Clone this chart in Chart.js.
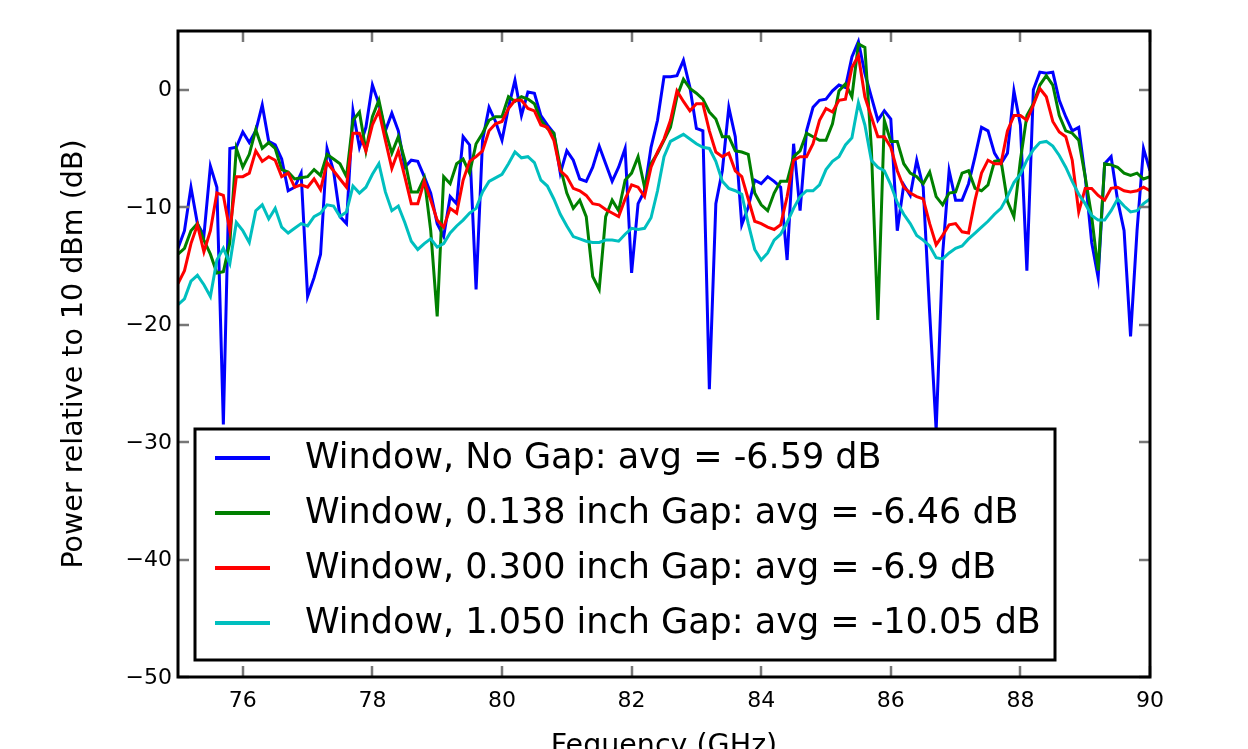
<!DOCTYPE html>
<html>
<head>
<meta charset="utf-8">
<script src="https://cdn.jsdelivr.net/npm/chart.js@4.4.1/dist/chart.umd.min.js"></script>
<style>
  html, body { margin: 0; padding: 0; background: #fff; overflow: hidden; }
  #wrap { width: 1248px; height: 749px; overflow: hidden; }
  canvas { display: block; }
</style>
</head>
<body>
<div id="wrap"><canvas id="c" width="1248" height="780"></canvas></div>
<script>
// ---- data (frequency grid 75.0 .. 90.0 GHz, step 0.1) ----
const freqGHz = Array.from({length: 151}, (_, i) => +(75 + i * 0.1).toFixed(1));

const seriesLabels = [
  'Window, No Gap: avg = -6.59 dB',
  'Window, 0.138 inch Gap: avg = -6.46 dB',
  'Window, 0.300 inch Gap: avg = -6.9 dB',
  'Window, 1.050 inch Gap: avg = -10.05 dB'
];

const noGap = [
  -13.5,-12,-8.3,-11.4,-12.4,-6.5,-8.3,-28.5,-5,-4.9,
  -3.6,-4.5,-3.5,-1.3,-4.4,-4.7,-5.9,-8.6,-8.3,-7.1,
  -17.6,-16,-14,-5,-6.9,-10.8,-11.4,-1.8,-4.9,-3.2,
  0.4,-1.2,-3.5,-2,-3.5,-6.6,-6,-6.1,-7.4,-8.8,
  -11.4,-12.5,-9.1,-9.7,-4,-4.7,-17,-4.3,-1.5,-2.7,
  -4.3,-1.5,0.8,-2.2,-0.2,-0.3,-2.2,-3,-3.7,-7.1,
  -5.2,-6,-7.6,-7.8,-6.6,-4.8,-6.3,-7.8,-6.6,-5,
  -15.6,-9.7,-8.6,-4.9,-2.6,1.1,1.1,1.2,2.5,0.2,
  -3.3,-3.5,-25.5,-9.7,-6.9,-1.5,-4,-11.5,-10,-7.7,
  -8,-7.4,-7.8,-8.3,-14.5,-4.6,-10.3,-3.5,-1.5,-0.9,
  -0.8,-0.1,0.4,0.2,2.8,4.1,1.4,-0.6,-2.6,-1.8,
  -2.5,-12,-8.1,-9,-6,-8.3,-19,-29,-14,-6.9,
  -9.4,-9.4,-8,-5.7,-3.2,-3.5,-5.4,-6.3,-5.4,-0.1,
  -3,-15.4,0,1.5,1.4,1.5,-0.9,-2.3,-3.5,-3.2,
  -7.4,-13,-16,-6.3,-5.7,-9.4,-12,-21,-12,-5,
  -6.9
];

const gap0138 = [
  -14,-13.5,-12,-11.4,-12.8,-14,-15.6,-15.5,-13,-5,
  -6.6,-5.5,-3.4,-5,-4.5,-5,-6.8,-7,-7.6,-7.5,
  -7.4,-6.8,-7.3,-5.5,-5.9,-6.3,-7.4,-2.6,-1.9,-5.2,
  -2.3,-0.9,-3.5,-5.4,-4,-6,-8.7,-8.7,-7.5,-12,
  -19.3,-7.4,-8,-6.3,-5.9,-7.1,-4.6,-3.7,-2.6,-2.3,
  -2.3,-0.6,-1,-0.6,-0.8,-1.2,-2.6,-3.3,-3.7,-6.6,
  -8.8,-10.1,-9.4,-10.8,-15.9,-17,-10.8,-9.4,-10.3,-7.7,
  -7.1,-5.7,-8.3,-6.3,-5.4,-4.3,-3.2,-0.6,0.9,0.1,
  -0.3,-0.8,-1.9,-2.5,-4,-4,-5.2,-5.3,-5.5,-8.8,
  -9.8,-10.3,-8.8,-7.8,-7.8,-5.7,-5.2,-3.7,-4,-4.3,
  -4.3,-2.9,-0.1,0.5,-0.6,3.9,3.6,-5,-19.6,-2.6,
  -4.4,-4.4,-6.3,-7.1,-7.4,-8,-7,-9.1,-9.8,-8.8,
  -8.7,-7.1,-6.9,-8.4,-8.6,-8.1,-6.1,-6,-9.5,-10.8,
  -6,-2.2,-1.2,0.4,1.2,0.4,-2.2,-3.5,-3.7,-4.3,
  -7.4,-10.8,-15.4,-6.3,-6.4,-6.6,-7.1,-7.3,-7.1,-7.6,
  -7.4
];

const gap0300 = [
  -16.5,-15.4,-13.1,-11.5,-13.8,-12,-8.8,-9,-12,-7.4,
  -7.4,-7.1,-5.2,-6.1,-5.7,-6,-7.4,-7.1,-8.3,-8.1,
  -8.3,-7.6,-8.5,-6.2,-6.9,-7.6,-8.3,-3.7,-3.7,-5.2,
  -3,-1.8,-4.3,-6.7,-5.2,-7.4,-9.7,-9.7,-7.8,-9.4,
  -11.1,-11.7,-10.1,-10.5,-7.7,-6.1,-5.7,-5.2,-3.5,-2.9,
  -2.7,-1.6,-0.9,-0.9,-1.6,-1.8,-3,-3.2,-4.3,-6.9,
  -7.4,-8.4,-8.6,-9,-9.7,-9.8,-10.2,-10.5,-10.8,-9.3,
  -8.1,-8.3,-9.1,-6.6,-5.3,-4.2,-2.6,-0.1,-1,-1.8,
  -1.2,-1.2,-3.5,-5.3,-5.7,-5.4,-6.9,-7.4,-9.3,-11.2,
  -11.4,-11.7,-11.9,-11.5,-9.1,-6,-5.7,-5.7,-4.6,-2.6,
  -1.6,-1.9,-0.9,-0.8,1.9,2.9,-0.6,-2.3,-4,-4,
  -4.9,-6.9,-8.3,-8.8,-9.1,-9.3,-11.4,-13.2,-12.4,-11.5,
  -11.4,-12.1,-12.2,-9.4,-7.1,-6,-6.3,-6.3,-3.5,-2.2,
  -2.2,-2.6,-1.3,0.1,-0.6,-2.7,-3.6,-4,-6,-10.4,
  -8.4,-8.4,-9,-9.4,-8.4,-8.3,-8.6,-8.7,-8.6,-8.3,
  -8.6
];

const gap1050 = [
  -18.3,-17.8,-16.3,-15.8,-16.6,-17.6,-14.5,-13.5,-14.8,-11.3,
  -12,-13,-10.3,-9.8,-11,-10.1,-11.7,-12.2,-11.8,-11.4,
  -11.6,-10.8,-10.5,-9.8,-9.9,-10.8,-10.4,-8.2,-8.8,-8.3,
  -7.2,-6.3,-8.7,-10.3,-9.9,-11.3,-12.9,-13.6,-13.1,-12.7,
  -13.4,-13.1,-12.2,-11.6,-11.1,-10.5,-10.1,-8.7,-7.8,-7.5,
  -7.2,-6.3,-5.3,-5.8,-5.7,-6.2,-7.7,-8.2,-9.3,-10.6,
  -11.6,-12.5,-12.7,-12.9,-13,-13,-12.8,-12.8,-12.9,-12.3,
  -11.8,-11.9,-11.8,-10.9,-8.6,-5.7,-4.4,-4.1,-3.8,-4.2,
  -4.6,-4.9,-5,-6.1,-7.8,-8.4,-8.6,-8.9,-11.4,-13.6,
  -14.5,-13.9,-12.8,-12.3,-11.3,-10.1,-9.1,-8.6,-8.6,-8.1,
  -6.8,-6.1,-5.7,-4.7,-4.1,-1.1,-3,-6,-6.6,-6.9,
  -8.1,-9.6,-10.6,-11.4,-12.4,-12.8,-13.3,-14.3,-14.4,-13.9,
  -13.5,-13.3,-12.7,-12.2,-11.7,-11.2,-10.6,-10.1,-9.1,-7.9,
  -7.2,-6,-5.1,-4.5,-4.4,-4.8,-5.6,-6.6,-7.8,-8.9,
  -9.7,-10.7,-11.1,-11.1,-10.3,-9.3,-9.9,-10.4,-10.3,-9.7,
  -9.3
];

const xTicks = [76, 78, 80, 82, 84, 86, 88, 90];
const yTicks = [-50, -40, -30, -20, -10, 0];
const seriesColors = ['#0000ff', '#008000', '#ff0000', '#00bfbf'];
const seriesValues = [noGap, gap0138, gap0300, gap1050];

// ---- chart ----
const FONT = "'DejaVu Sans', sans-serif";
const TICK_PX = 22;
const minusFmt = v => String(v).replace('-', '\u2212');

const frameLegendPlugin = {
  id: 'frameLegend',
  afterDatasetsDraw(chart) {
    const {ctx, chartArea: a, scales} = chart;
    const sx = scales.x, sy = scales.y;
    ctx.save();
    // inside tick marks on all four sides
    ctx.strokeStyle = '#777';
    ctx.lineWidth = 2.5;
    const L = 11;
    ctx.beginPath();
    xTicks.forEach(v => {
      const px = Math.round(sx.getPixelForValue(v));
      ctx.moveTo(px, a.top); ctx.lineTo(px, a.top + L);
      ctx.moveTo(px, a.bottom); ctx.lineTo(px, a.bottom - L);
    });
    yTicks.forEach(v => {
      const py = Math.round(sy.getPixelForValue(v));
      ctx.moveTo(a.left, py); ctx.lineTo(a.left + L, py);
      ctx.moveTo(a.right, py); ctx.lineTo(a.right - L, py);
    });
    ctx.stroke();
    // frame
    ctx.strokeStyle = '#000';
    ctx.lineWidth = 3;
    ctx.strokeRect(a.left, a.top, a.right - a.left, a.bottom - a.top);

    // y tick labels, right-aligned against the axis
    ctx.fillStyle = '#000';
    ctx.font = TICK_PX + 'px ' + FONT;
    ctx.textAlign = 'right';
    ctx.textBaseline = 'middle';
    yTicks.forEach(v => {
      ctx.fillText(minusFmt(v), a.left - 6, sy.getPixelForValue(v) + 1);
    });

    // legend box (lower left, inside the axes)
    const bx = a.left + 17, bw = 860, bh = 231;
    const by = a.bottom - 17 - bh;
    ctx.fillStyle = '#fff';
    ctx.fillRect(bx, by, bw, bh);
    ctx.strokeStyle = '#000';
    ctx.lineWidth = 3;
    ctx.strokeRect(bx, by, bw, bh);
    ctx.font = '35px ' + FONT;
    ctx.textBaseline = 'middle';
    ctx.textAlign = 'left';
    chart.data.datasets.forEach((ds, i) => {
      const ly = by + 29 + i * 55;
      ctx.strokeStyle = ds.borderColor;
      ctx.lineWidth = 4;
      ctx.beginPath();
      ctx.moveTo(bx + 20, ly);
      ctx.lineTo(bx + 75, ly);
      ctx.stroke();
      ctx.fillStyle = '#000';
      ctx.fillText(ds.label, bx + 110, ly + 1);
    });
    ctx.restore();
  }
};

const datasets = seriesValues.map((vals, i) => ({
  label: seriesLabels[i],
  data: vals.map((v, j) => ({x: freqGHz[j], y: v})),
  borderColor: seriesColors[i],
  backgroundColor: seriesColors[i],
  borderWidth: 3,
  pointRadius: 0,
  tension: 0,
  fill: false,
  order: 4 - i
}));

new Chart(document.getElementById('c'), {
  type: 'line',
  data: { datasets },
  options: {
    responsive: false,
    animation: false,
    devicePixelRatio: 1,
    layout: { padding: { left: 0, right: 98, top: 31, bottom: 0 } },
    plugins: {
      legend: { display: false },
      tooltip: { enabled: false }
    },
    scales: {
      x: {
        type: 'linear',
        min: 75, max: 90,
        grid: { display: false, drawTicks: false },
        border: { display: false },
        afterBuildTicks: s => { s.ticks = xTicks.map(v => ({value: v})); },
        afterFit: s => { s.height = 103; },
        ticks: {
          color: '#000',
          font: { family: FONT, size: TICK_PX },
          padding: 11,
          maxRotation: 0,
          callback: v => minusFmt(v)
        },
        title: {
          display: true,
          text: 'Fequency (GHz)',
          color: '#000',
          font: { family: FONT, size: 28.5 },
          padding: { top: 0, bottom: 16 }
        }
      },
      y: {
        type: 'linear',
        min: -50, max: 5,
        grid: { display: false, drawTicks: false },
        border: { display: false },
        afterBuildTicks: s => { s.ticks = yTicks.map(v => ({value: v})); },
        afterFit: s => { s.width = 178; },
        ticks: { display: false },
        title: {
          display: true,
          text: 'Power relative to 10 dBm (dB)',
          color: '#000',
          font: { family: FONT, size: 28.5 },
          padding: { top: 57, bottom: 0 }
        }
      }
    }
  },
  plugins: [frameLegendPlugin]
});
</script>
</body>
</html>
